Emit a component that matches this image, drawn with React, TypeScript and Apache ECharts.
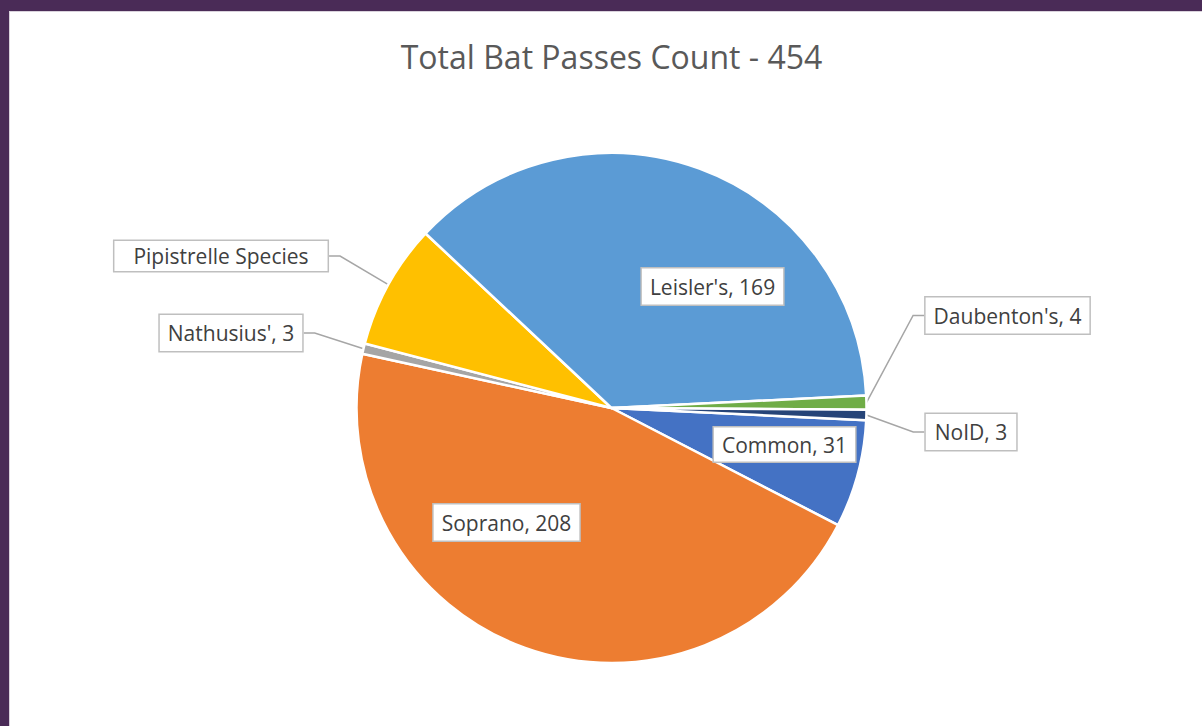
import React, { useEffect, useRef } from "react";
import * as echarts from "echarts";

const titleText = "Total Bat Passes Count - 454";
const categories = ["Common", "Soprano", "Nathusius'", "Pipistrelle Species", "Leisler's", "Daubenton's", "NoID"];
const counts = [31, 208, 3, 36, 169, 4, 3];
const sliceColors = ["#4472C4", "#ED7D31", "#A5A5A5", "#FFC000", "#5B9BD5", "#70AD47", "#264478"];
const showValue = [true, true, true, false, true, true, true];
const insideLabel = [true, true, false, false, true, false, false];

// label box centres and paddings (layout only)
const labelCenters: [number, number][] = [
  [784.5, 444.5],
  [506.5, 522.5],
  [231, 333],
  [221, 256],
  [712.5, 286.5],
  [1007.5, 315.5],
  [971, 432],
];
const labelPads: [number, number][] = [
  [5, 8],
  [6, 8],
  [6, 8],
  [3, 19],
  [6, 8],
  [6, 8],
  [6, 9],
];

const FONT = "'Open Sans', sans-serif";
const PURPLE = "#4A2B57";

export default function App() {
  const ref = useRef<HTMLDivElement>(null);
  useEffect(() => {
    const chart = echarts.init(ref.current!, null, { renderer: "svg" });
    const data = categories.map((name, i) => ({
      name,
      value: counts[i],
      itemStyle: { color: sliceColors[i] },
      label: {
        position: insideLabel[i] ? "inside" : "outside",
        formatter: showValue[i] ? "{b}, {c}" : "{b}",
        padding: labelPads[i],
      },
      labelLine: { show: !insideLabel[i] },
    }));
    chart.setOption({
      animation: false,
      backgroundColor: "#ffffff",
      title: {
        text: titleText,
        left: 606.5,
        textAlign: "center",
        top: 35,
        textStyle: { fontFamily: FONT, fontSize: 32, fontWeight: "normal", color: "#595959" },
      },
      graphic: [
        { type: "rect", shape: { x: 0, y: 0, width: 1202, height: 11 }, style: { fill: PURPLE } },
        { type: "rect", shape: { x: 0, y: 0, width: 9, height: 726 }, style: { fill: PURPLE } },
        { type: "rect", shape: { x: 9, y: 11, width: 1193, height: 1 }, style: { fill: "#d9d2dc" } },
        { type: "rect", shape: { x: 9, y: 11, width: 1, height: 715 }, style: { fill: "#d9d2dc" } },
      ],
      series: [
        {
          type: "pie",
          center: [611.5, 408],
          radius: 255,
          startAngle: 357.25,
          clockwise: true,
          avoidLabelOverlap: false,
          itemStyle: { borderColor: "#ffffff", borderWidth: 2.5 },
          label: {
            show: true,
            fontFamily: FONT,
            fontSize: 21,
            lineHeight: 24,
            color: "#404040",
            backgroundColor: "#ffffff",
            borderColor: "#BFBFBF",
            borderWidth: 1.5,
          },
          labelLine: {
            show: true,
            length: 10,
            length2: 11,
            smooth: false,
            lineStyle: { color: "#A6A6A6", width: 1.5 },
          },
          emphasis: { disabled: true },
          labelLayout: (params: any) => {
            const c = labelCenters[params.dataIndex];
            return { x: c[0], y: c[1], align: "center", verticalAlign: "middle" };
          },
          data,
        },
      ],
    });
    return () => chart.dispose();
  }, []);
  return (
    <div
      ref={ref}
      style={{ position: "fixed", left: 0, top: 0, width: 1202, height: 726, background: "#fff" }}
    />
  );
}
